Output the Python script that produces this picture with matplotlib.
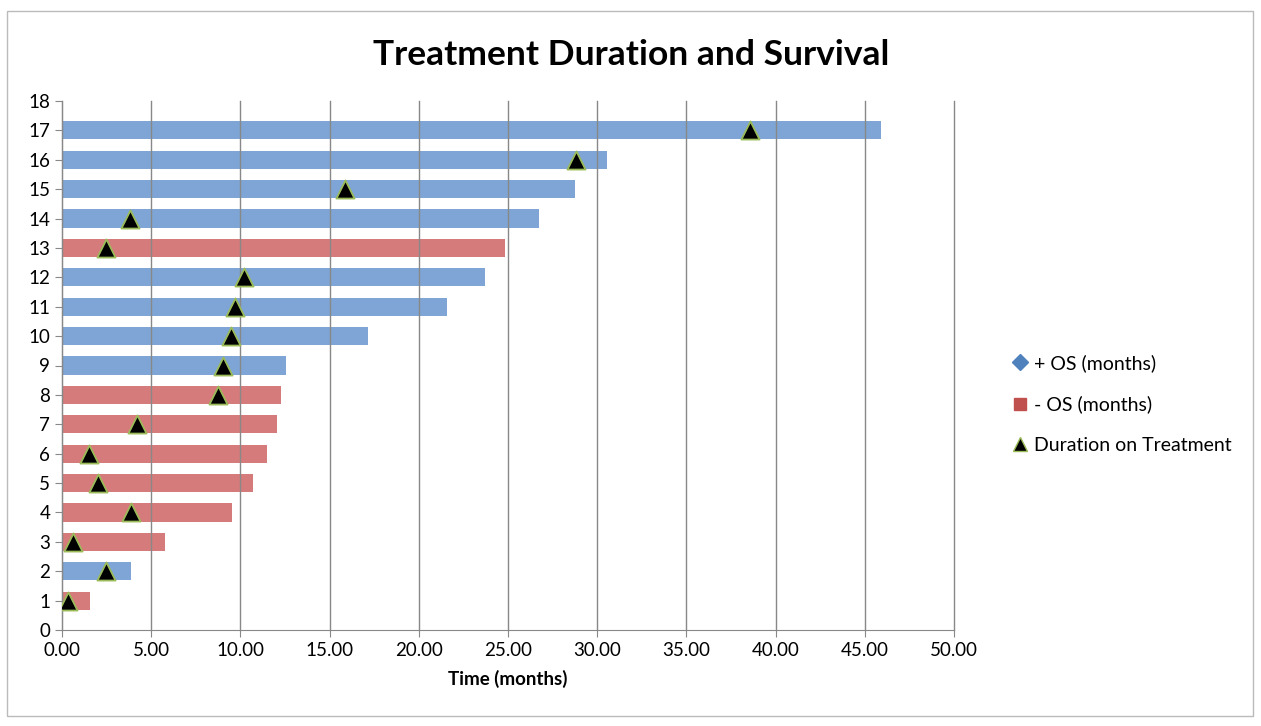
import matplotlib
matplotlib.use("Agg")
import matplotlib.pyplot as plt
from matplotlib.lines import Line2D
from matplotlib.patches import Rectangle

plt.rcParams['font.family'] = ['Lato', 'DejaVu Sans']

patients = list(range(1, 18))
os_months = [1.57, 3.87, 5.77, 9.53, 10.71, 11.49, 12.05, 12.28, 12.56, 17.15,
             21.58, 23.71, 24.83, 26.74, 28.76, 30.55, 45.9]
os_positive = [False, True, False, False, False, False, False, False, True, True,
               True, True, False, True, True, True, True]
treatment = [0.34, 2.47, 0.62, 3.87, 2.02, 1.51, 4.20, 8.74, 9.02, 9.47,
             9.70, 10.2, 2.47, 3.81, 15.86, 28.81, 38.57]

xticks = [0, 5, 10, 15, 20, 25, 30, 35, 40, 45, 50]
xticklabels = [f"{v:.2f}" for v in xticks]
yticks = list(range(0, 19))

BLUE_BAR = '#7EA5D5'
RED_BAR = '#D67B7B'

fig = plt.figure(figsize=(12.61, 7.26), dpi=100)
ax = fig.add_axes([62/1261, 1-630/726, (954-62)/1261, (630-101)/726])

colors = [BLUE_BAR if p else RED_BAR for p in os_positive]
ax.barh(patients, os_months, height=0.62, color=colors, zorder=2)
ax.scatter(treatment, patients, marker='^', s=170, color='black',
           edgecolors='#9BBB59', linewidths=1.3, zorder=4)

ax.set_xlim(0, 50)
ax.set_ylim(0, 18)
ax.set_xticks(xticks)
ax.set_xticklabels(xticklabels, fontsize=13.5)
ax.set_yticks(yticks)
ax.set_yticklabels([str(v) for v in yticks], fontsize=13.5)
ax.xaxis.grid(True, color='#888888', linewidth=1.0, zorder=3)
for gl in ax.get_xgridlines():
    gl.set_clip_on(False)
ax.set_axisbelow(False)
for s in ['top', 'right']:
    ax.spines[s].set_visible(False)
for s in ['left', 'bottom']:
    ax.spines[s].set_color('#888888')
ax.tick_params(axis='both', colors='#888888', labelcolor='black', length=5)
ax.set_xlabel('Time (months)', fontsize=13.5, fontweight='bold', labelpad=8)

fig.suptitle('Treatment Duration and Survival', fontsize=25.5, fontweight='bold',
             x=631/1261, y=1-55/726, va='center')

handles = [
    Line2D([], [], marker='D', color='#4F81BD', linestyle='none', markersize=8),
    Line2D([], [], marker='s', color='#C0504D', linestyle='none', markersize=9),
    Line2D([], [], marker='^', color='black', markeredgecolor='#9BBB59',
           linestyle='none', markersize=10),
]
labels = ['+ OS (months)', '- OS (months)', 'Duration on Treatment']
fig.legend(handles, labels, loc='center left', bbox_to_anchor=(991/1261, 1-404/726),
           frameon=False, fontsize=14, handletextpad=0.1, labelspacing=1.2,
           handlelength=1.2)

fig.add_artist(Rectangle((7/1261, 10/726), (1253-7)/1261, (715-10)/726,
                         transform=fig.transFigure, fill=False,
                         edgecolor='#BBBBBB', linewidth=1.0))

fig.savefig('out.png', dpi=100)
